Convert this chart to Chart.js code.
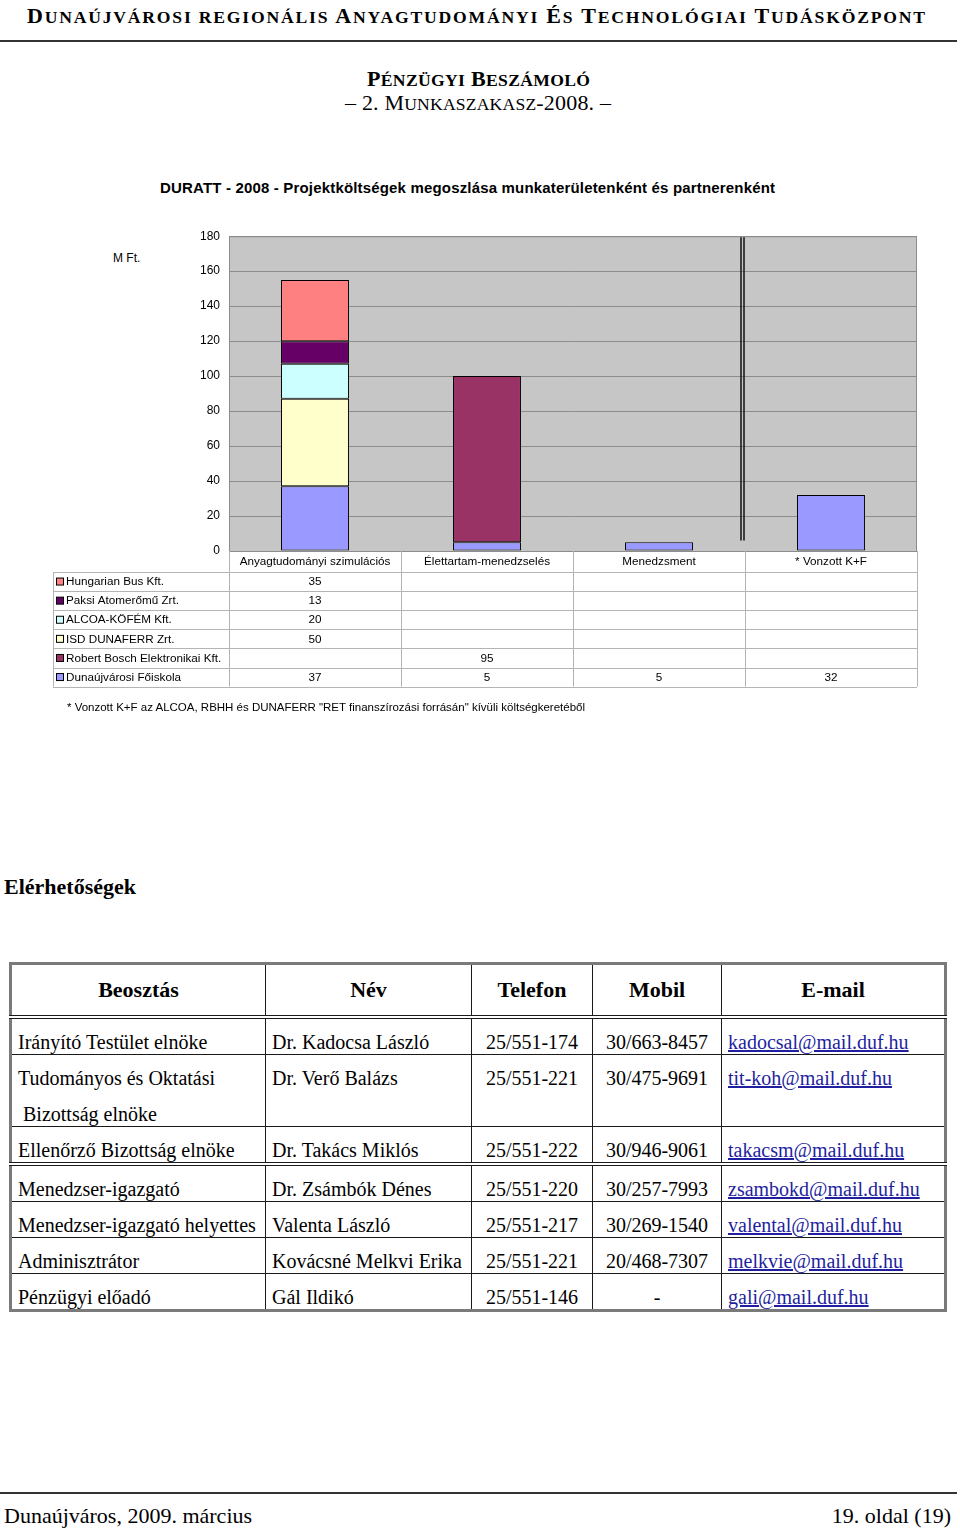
<!DOCTYPE html>
<html><head><meta charset="utf-8">
<script src="https://cdn.jsdelivr.net/npm/chart.js@4/dist/chart.umd.min.js"></script>
<style>
html,body{margin:0;padding:0;background:#fff;}
body{width:960px;height:1531px;position:relative;overflow:hidden;font-family:"Liberation Serif","Times New Roman",serif;color:#000;}
.abs{position:absolute;white-space:nowrap;}
.s{font-size:0.8em;text-transform:uppercase;}
#hdr{left:27px;top:3px;font-weight:bold;font-size:22px;line-height:26px;}
#rule1{left:0;top:40px;width:957px;height:2px;background:#333;}
#t1{left:367px;top:66px;font-weight:bold;font-size:22px;line-height:26px;}
#t2{left:345px;top:90px;font-size:22px;line-height:26px;}
#ctitle{left:160px;top:179px;font-family:"Liberation Sans",Arial,sans-serif;font-weight:bold;font-size:15px;line-height:18px;}
#ylab{left:113px;top:250px;font-family:"Liberation Sans",Arial,sans-serif;font-size:12px;line-height:16px;}
#cwrap{left:0;top:220px;width:960px;height:480px;}
#note{left:67px;top:699px;font-family:"Liberation Sans",Arial,sans-serif;font-size:11.5px;line-height:16px;}
#elh{left:4px;top:873px;font-weight:bold;font-size:22px;line-height:28px;}
#ctab{position:absolute;left:9px;top:962px;width:935px;border-collapse:collapse;table-layout:fixed;border:3px solid #7a7a7a;font-size:20px;}
#ctab td,#ctab th{border:1.5px solid #1a1a1a;padding:0;vertical-align:top;white-space:nowrap;overflow:visible;}
#ctab th{font-size:22px;font-weight:bold;text-align:center;vertical-align:middle;height:50px;border-bottom:4px double #1a1a1a;}
#ctab td{line-height:24px;padding-top:11px;}
#ctab td.l{padding-left:6px;}
#ctab td.c{text-align:center;}
#ctab td.e{padding-left:6px;}
#ctab td.e span{color:#1f1fa0;text-decoration:underline;}
#ctab tr.dbl td{border-bottom:4px double #1a1a1a;}
#rule2{left:0;top:1492px;width:957px;height:2px;background:#333;}
#fl{left:4px;top:1502px;font-size:22px;line-height:28px;}
#fr{right:9px;top:1502px;font-size:22px;line-height:28px;}
</style>
</head><body>
<div id="hdr" class="abs"><span class="in">D<span class="s">unaújvárosi regionális</span> A<span class="s">nyagtudományi</span> É<span class="s">s</span> T<span class="s">echnológiai</span> T<span class="s">udásközpont</span></span></div>
<div id="rule1" class="abs"></div>
<div id="t1" class="abs"><span class="in">P<span class="s">énzügyi</span> B<span class="s">eszámoló</span></span></div>
<div id="t2" class="abs"><span class="in">– 2. M<span class="s">unkaszakasz</span>-2008. –</span></div>
<div id="ctitle" class="abs"><span class="in">DURATT - 2008 - Projektköltségek megoszlása munkaterületenként és partnerenként</span></div>
<div id="ylab" class="abs">M Ft.</div>
<div id="cwrap" class="abs"><canvas id="c" width="960" height="480" style="width:960px;height:480px"></canvas></div>
<div id="note" class="abs"><span class="in">* Vonzott K+F az ALCOA, RBHH és DUNAFERR "RET finanszírozási forrásán" kívüli költségkeretéből</span></div>
<div id="elh" class="abs">Elérhetőségek</div>

<table id="ctab">
<colgroup><col style="width:255px"><col style="width:206px"><col style="width:121px"><col style="width:129px"><col style="width:224px"></colgroup>
<tr><th>Beosztás</th><th>Név</th><th>Telefon</th><th>Mobil</th><th>E-mail</th></tr>
<tr><td class="l">Irányító Testület elnöke</td><td class="l">Dr. Kadocsa László</td><td class="c">25/551-174</td><td class="c">30/663-8457</td><td class="e"><span>kadocsal@mail.duf.hu</span></td></tr>
<tr><td class="l"><div>Tudományos és Oktatási</div><div style="margin-top:12px">&nbsp;Bizottság elnöke</div></td><td class="l">Dr. Verő Balázs</td><td class="c">25/551-221</td><td class="c">30/475-9691</td><td class="e"><span>tit-koh@mail.duf.hu</span></td></tr>
<tr class="dbl"><td class="l">Ellenőrző Bizottság elnöke</td><td class="l">Dr. Takács Miklós</td><td class="c">25/551-222</td><td class="c">30/946-9061</td><td class="e"><span>takacsm@mail.duf.hu</span></td></tr>
<tr><td class="l">Menedzser-igazgató</td><td class="l">Dr. Zsámbók Dénes</td><td class="c">25/551-220</td><td class="c">30/257-7993</td><td class="e"><span>zsambokd@mail.duf.hu</span></td></tr>
<tr><td class="l">Menedzser-igazgató helyettes</td><td class="l">Valenta László</td><td class="c">25/551-217</td><td class="c">30/269-1540</td><td class="e"><span>valental@mail.duf.hu</span></td></tr>
<tr><td class="l">Adminisztrátor</td><td class="l">Kovácsné Melkvi Erika</td><td class="c">25/551-221</td><td class="c">20/468-7307</td><td class="e"><span>melkvie@mail.duf.hu</span></td></tr>
<tr><td class="l">Pénzügyi előadó</td><td class="l">Gál Ildikó</td><td class="c">25/551-146</td><td class="c">-</td><td class="e"><span>gali@mail.duf.hu</span></td></tr>
</table>

<div id="rule2" class="abs"></div>
<div id="fl" class="abs">Dunaújváros, 2009. március</div>
<div id="fr" class="abs">19. oldal (19)</div>

<script>
// ---- chart data ----
const categories = ['Anyagtudományi szimulációs', 'Élettartam-menedzselés', 'Menedzsment', '* Vonzott K+F'];
const partners = ['Hungarian Bus Kft.', 'Paksi Atomerőmű Zrt.', 'ALCOA-KÖFÉM Kft.', 'ISD DUNAFERR Zrt.', 'Robert Bosch Elektronikai Kft.', 'Dunaújvárosi Főiskola'];
const hungarianBus = [35, null, null, null];
const paksiAtomeromu = [13, null, null, null];
const alcoaKofem = [20, null, null, null];
const isdDunaferr = [50, null, null, null];
const robertBosch = [null, 95, null, null];
const dunaujvarosiFoiskola = [37, 5, 5, 32];
const yMin = 0, yMax = 180, yStep = 20;

const seriesValues = [hungarianBus, paksiAtomeromu, alcoaKofem, isdDunaferr, robertBosch, dunaujvarosiFoiskola];
const partnerColors = ['#FF8080', '#660066', '#CCFFFF', '#FFFFCC', '#993366', '#9999FF'];

// fit text lines to the reference widths by letter spacing
function fitWidth(id, target) {
  const el = document.getElementById(id);
  const inner = el.querySelector('.in');
  const w = inner.getBoundingClientRect().width;
  const n = inner.textContent.length - 1;
  el.style.letterSpacing = ((target - w) / n) + 'px';
}
fitWidth('hdr', 898);
fitWidth('t1', 223);
fitWidth('t2', 266);
fitWidth('ctitle', 615);
fitWidth('note', 518);

const FONT = '11.7px "Liberation Sans", Arial, sans-serif';

// datasets: stacked bottom-up, so reverse the legend order
const datasets = partners.map((p, i) => ({
  label: p,
  data: seriesValues[i],
  backgroundColor: partnerColors[i],
  borderColor: '#000',
  borderWidth: 1,
  borderSkipped: false,
  categoryPercentage: 1,
  barPercentage: 0.395
})).reverse();

const plotBg = {
  id: 'plotBg',
  beforeDraw(chart) {
    const {ctx, chartArea: a} = chart;
    ctx.save();
    ctx.fillStyle = '#c6c6c6';
    ctx.fillRect(a.left, a.top, a.right - a.left, a.bottom - a.top);
    ctx.restore();
  },
  afterDatasetsDraw(chart) {
    const {ctx, chartArea: a, scales} = chart;
    ctx.save();
    ctx.strokeStyle = '#8c8c8c';
    ctx.lineWidth = 1;
    ctx.strokeRect(a.left + 0.5, a.top + 0.5, a.right - a.left - 1, a.bottom - a.top);
    const bx = scales.x.getPixelForValue(2.5);
    const yb = scales.y.getPixelForValue(6);
    ctx.strokeStyle = '#111';
    ctx.lineWidth = 1.5;
    [bx - 4, bx - 1].forEach(x => {
      ctx.beginPath(); ctx.moveTo(x, a.top + 1); ctx.lineTo(x, yb); ctx.stroke();
    });
    ctx.restore();
  }
};

const dataTable = {
  id: 'dataTable',
  afterDraw(chart) {
    const {ctx, chartArea: a, scales} = chart;
    const xs = scales.x;
    const bounds = [];
    for (let i = 0; i <= categories.length; i++) bounds.push(xs.getPixelForValue(i - 0.5));
    const legLeft = a.left - 176;
    const headTop = a.bottom, headH = 21, rowH = 19.1;
    const rowsTop = headTop + headH;
    const bottom = rowsTop + rowH * partners.length;
    ctx.save();
    ctx.strokeStyle = '#b4b4b4';
    ctx.lineWidth = 1;
    bounds.forEach(x => {
      ctx.beginPath(); ctx.moveTo(Math.round(x) + 0.5, headTop); ctx.lineTo(Math.round(x) + 0.5, bottom); ctx.stroke();
    });
    ctx.beginPath(); ctx.moveTo(legLeft + 0.5, rowsTop); ctx.lineTo(legLeft + 0.5, bottom); ctx.stroke();
    for (let r = 0; r <= partners.length; r++) {
      const y = Math.round(rowsTop + r * rowH) + 0.5;
      ctx.beginPath(); ctx.moveTo(legLeft, y); ctx.lineTo(bounds[bounds.length - 1], y); ctx.stroke();
    }
    ctx.font = FONT;
    ctx.fillStyle = '#000';
    ctx.textBaseline = 'middle';
    ctx.textAlign = 'center';
    categories.forEach((c, i) => ctx.fillText(c, xs.getPixelForValue(i), headTop + headH / 2 + 0.5));
    partners.forEach((p, r) => {
      const cy = rowsTop + r * rowH + rowH / 2 + 0.5;
      ctx.fillStyle = partnerColors[r];
      ctx.fillRect(legLeft + 3.5, cy - 4, 7, 7);
      ctx.strokeStyle = '#000';
      ctx.strokeRect(legLeft + 3.5, cy - 4, 7, 7);
      ctx.fillStyle = '#000';
      ctx.textAlign = 'left';
      ctx.fillText(p, legLeft + 13, cy);
      ctx.textAlign = 'center';
      seriesValues[r].forEach((v, i) => {
        if (v !== null) ctx.fillText(String(v), xs.getPixelForValue(i), cy);
      });
    });
    ctx.restore();
  }
};

new Chart(document.getElementById('c'), {
  type: 'bar',
  data: {labels: categories, datasets},
  options: {
    responsive: false,
    animation: false,
    devicePixelRatio: 1,
    layout: {padding: {top: 14, bottom: 149, left: 0, right: 43}},
    plugins: {legend: {display: false}, tooltip: {enabled: false}, title: {display: false}},
    scales: {
      x: {display: false, stacked: true},
      y: {
        stacked: true, min: yMin, max: yMax,
        afterFit(s) { s.width = 229; },
        ticks: {stepSize: yStep, color: '#000', font: {family: '"Liberation Sans", Arial, sans-serif', size: 12}, padding: 9},
        grid: {color: '#8c8c8c', drawTicks: false},
        border: {display: true, color: '#8c8c8c'}
      }
    }
  },
  plugins: [plotBg, dataTable]
});
</script>
</body></html>
